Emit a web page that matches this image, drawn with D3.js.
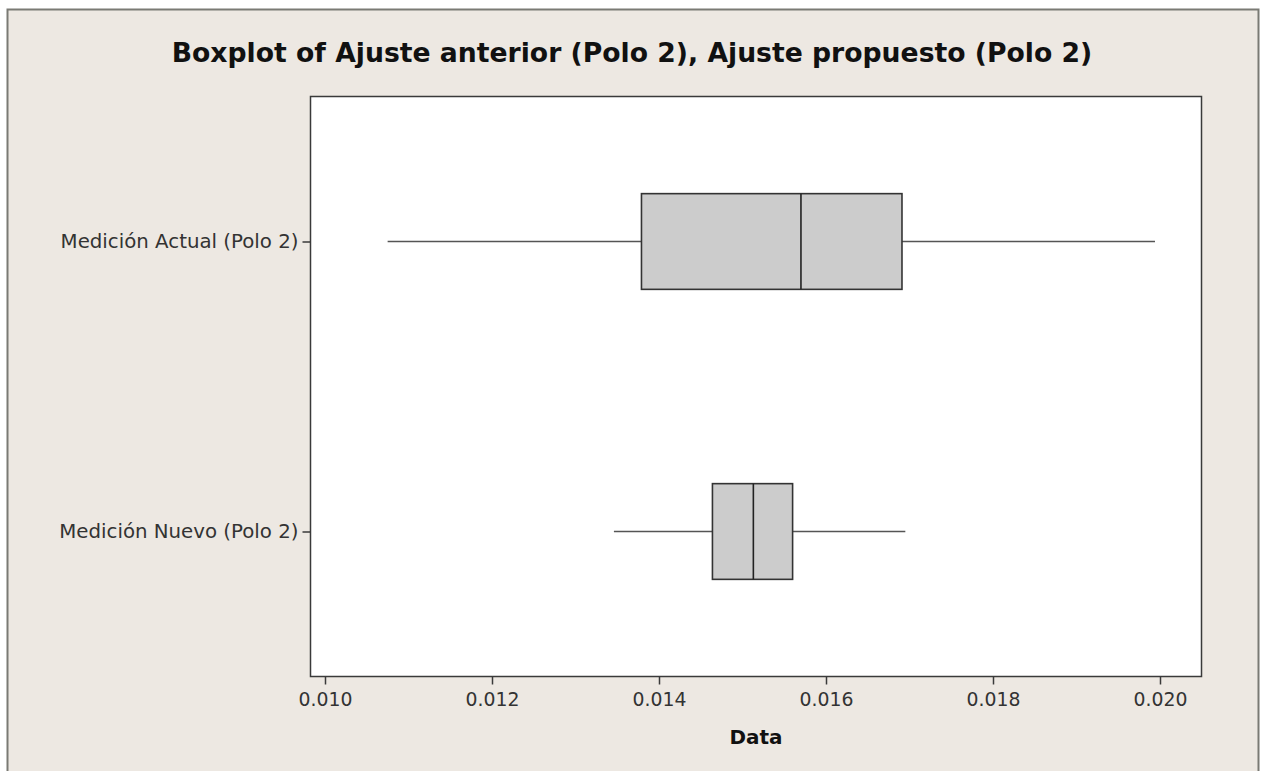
<!DOCTYPE html>
<html>
<head>
<meta charset="utf-8">
<script src="https://cdn.jsdelivr.net/npm/d3@7"></script>
<style>
  html, body { margin: 0; padding: 0; background: #ffffff; }
  svg { display: block; }
</style>
</head>
<body>
<svg id="chart" width="1261" height="771"></svg>
<script>
const categories = ["Medición Actual (Polo 2)", "Medición Nuevo (Polo 2)"];
const whiskerLow  = [0.01075, 0.01346];
const q1Values    = [0.01379, 0.01464];
const medians     = [0.01570, 0.01513];
const q3Values    = [0.01691, 0.01560];
const whiskerHigh = [0.01994, 0.01695];
const xTicks = [0.010, 0.012, 0.014, 0.016, 0.018, 0.020];
const titleText = "Boxplot of Ajuste anterior (Polo 2), Ajuste propuesto (Polo 2)";
const xLabel = "Data";

const boxes = categories.map((c, i) => ({
  cat: c, lo: whiskerLow[i], q1: q1Values[i], med: medians[i], q3: q3Values[i], hi: whiskerHigh[i]
}));

const W = 1261, H = 771;
const plot = { left: 310.5, top: 96.5, right: 1201.5, bottom: 676.5 };
const svg = d3.select("#chart");
const font = "'DejaVu Sans', Verdana, sans-serif";

function fitWidth(sel, base, target) {
  const w = sel.node().getComputedTextLength();
  sel.attr("font-size", base * target / w);
}

// background panel
svg.append("rect").attr("x", 7).attr("y", 9).attr("width", W - 9).attr("height", H - 9)
  .attr("fill", "#ede8e2");
svg.append("path").attr("d", `M7.5,${H} V9.5 H${W - 2.5} V${H}`)
  .attr("fill", "none").attr("stroke", "#7a7a74").attr("stroke-width", 2);

const x = d3.scaleLinear().domain([0.010, 0.020]).range([325, 1160]);
const y = d3.scalePoint().domain(categories).range([plot.top, plot.bottom]).padding(0.5);
const boxH = y.step() * 0.33;

// plot area
svg.append("rect").attr("x", plot.left).attr("y", plot.top)
  .attr("width", plot.right - plot.left).attr("height", plot.bottom - plot.top)
  .attr("fill", "#ffffff").attr("stroke", "#3a3a3a").attr("stroke-width", 1.5);

// x axis
const xAxis = d3.axisBottom(x).tickValues(xTicks).tickFormat(d3.format(".3f"))
  .tickSizeInner(8).tickSizeOuter(0).tickPadding(5);
const gx = svg.append("g").attr("transform", `translate(0,${plot.bottom})`).call(xAxis);
gx.select(".domain").remove();
gx.selectAll(".tick line").attr("stroke", "#3a3a3a").attr("stroke-width", 1.5);
gx.selectAll(".tick text").attr("font-family", font).attr("font-size", 17.5)
  .attr("fill", "#333333").attr("dy", "0.9em");
gx.selectAll(".tick text").each(function () { fitWidth(d3.select(this), 17.5, 54); });

// y axis
const yAxis = d3.axisLeft(y).tickSizeInner(8).tickSizeOuter(0).tickPadding(4);
const gy = svg.append("g").attr("transform", `translate(${plot.left},0)`).call(yAxis);
gy.select(".domain").remove();
gy.selectAll(".tick line").attr("stroke", "#3a3a3a").attr("stroke-width", 1.5);
gy.selectAll(".tick text").attr("font-family", font).attr("font-size", 16.5)
  .attr("fill", "#333333");
const yt0 = gy.select(".tick text");
const ysize = 16.5 * 238 / yt0.node().getComputedTextLength();
gy.selectAll(".tick text").attr("font-size", ysize);

// boxes
const g = svg.append("g");
const bx = g.selectAll("g.box").data(boxes).join("g").attr("class", "box");
bx.append("line").attr("x1", d => x(d.lo)).attr("x2", d => x(d.q1))
  .attr("y1", d => y(d.cat)).attr("y2", d => y(d.cat))
  .attr("stroke", "#555555").attr("stroke-width", 1.6);
bx.append("line").attr("x1", d => x(d.q3)).attr("x2", d => x(d.hi))
  .attr("y1", d => y(d.cat)).attr("y2", d => y(d.cat))
  .attr("stroke", "#555555").attr("stroke-width", 1.6);
bx.append("rect").attr("x", d => x(d.q1)).attr("y", d => y(d.cat) - boxH / 2)
  .attr("width", d => x(d.q3) - x(d.q1)).attr("height", boxH)
  .attr("fill", "#cccccc").attr("stroke", "#333333").attr("stroke-width", 1.6);
bx.append("line").attr("x1", d => x(d.med)).attr("x2", d => x(d.med))
  .attr("y1", d => y(d.cat) - boxH / 2).attr("y2", d => y(d.cat) + boxH / 2)
  .attr("stroke", "#222222").attr("stroke-width", 1.6);

// title
const t = svg.append("text").attr("x", 632).attr("y", 62).attr("text-anchor", "middle")
  .attr("font-family", font).attr("font-weight", "bold").attr("font-size", 21)
  .attr("fill", "#111111").text(titleText);
fitWidth(t, 21, 921);

// x label
const xl = svg.append("text").attr("x", (plot.left + plot.right) / 2).attr("y", 744).attr("text-anchor", "middle")
  .attr("font-family", font).attr("font-weight", "bold").attr("font-size", 19)
  .attr("fill", "#111111").text(xLabel);
fitWidth(xl, 19, 53);
</script>
</body>
</html>
